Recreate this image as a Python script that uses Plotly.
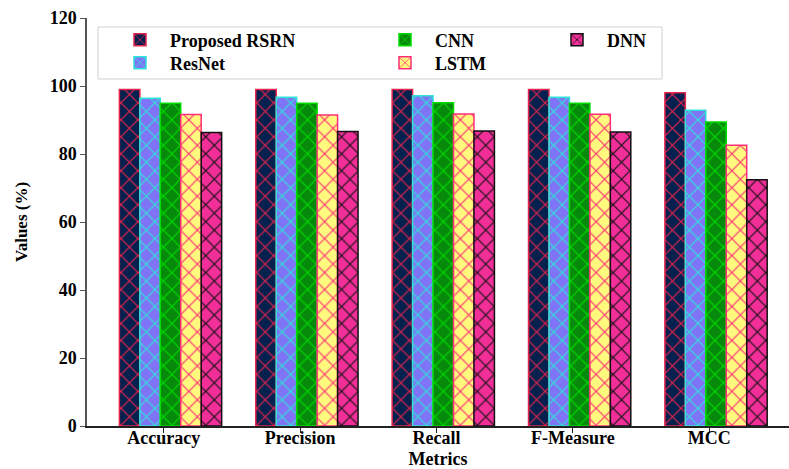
import plotly.graph_objects as go

# Evaluation metrics and model scores (%)
metrics = ["Accuracy", "Precision", "Recall", "F-Measure", "MCC"]
models = ["Proposed RSRN", "ResNet", "CNN", "LSTM", "DNN"]

rsrn = [99.0, 99.0, 99.0, 99.0, 98.0]
resnet = [96.4, 96.7, 97.1, 96.7, 92.9]
cnn = [94.9, 94.9, 95.1, 94.9, 89.4]
lstm = [91.6, 91.5, 91.8, 91.7, 82.6]
dnn = [86.3, 86.6, 86.8, 86.5, 72.4]

y_ticks = [0, 20, 40, 60, 80, 100, 120]

series = [rsrn, resnet, cnn, lstm, dnn]
fills = ["#03214f", "#7f74f6", "#078a0c", "#fff97e", "#f22f99"]
edges = ["#e8244c", "#2fe3d6", "#00dc00", "#ff2e78", "#111111"]
# one legend per entry so the 3-column grid (filled column-wise) lines up
legend_ids = ["legend", "legend2", "legend3", "legend4", "legend5"]

BAR_W = 0.15
FONT = "Liberation Serif"

fig = go.Figure()
for i, (name, vals) in enumerate(zip(models, series)):
    fig.add_trace(go.Bar(
        x=metrics,
        y=vals,
        name=f"<b>{name}</b>",
        width=BAR_W,
        offset=-0.325 + i * BAR_W,
        showlegend=True,
        marker=dict(
            color=fills[i],
            line=dict(color=edges[i], width=1.5),
            pattern=dict(shape="x", fgcolor=edges[i], bgcolor=fills[i],
                         size=12, solidity=0.18, fillmode="replace"),
        ),
        legend=legend_ids[i],
    ))

W, H = 789, 469
ML, MR, MT, MB = 87, 0, 18, 43
pw, ph = W - ML - MR, H - MT - MB


def px_x(p):
    return (p - ML) / pw


def px_y(p):
    return (H - MB - p) / ph


def legend_at(x_px, y_px):
    return dict(
        bgcolor="rgba(0,0,0,0)",
        borderwidth=0,
        font=dict(family=FONT, size=18, color="black"),
        itemwidth=50,
        xanchor="left",
        yanchor="middle",
        x=px_x(x_px),
        y=px_y(y_px),
    )


col_x = [110, 375, 547]
row_y = [40, 63]

fig.update_layout(
    width=W,
    height=H,
    margin=dict(l=ML, r=MR, t=MT, b=MB, autoexpand=False),
    paper_bgcolor="white",
    plot_bgcolor="white",
    barmode="overlay",
    showlegend=True,
    font=dict(family=FONT, size=17, color="black"),
    legend=legend_at(col_x[0], row_y[0]),
    legend2=legend_at(col_x[0], row_y[1]),
    legend3=legend_at(col_x[1], row_y[0]),
    legend4=legend_at(col_x[1], row_y[1]),
    legend5=legend_at(col_x[2], row_y[0]),
    shapes=[dict(
        type="rect", xref="paper", yref="paper",
        x0=px_x(98), x1=px_x(662), y0=px_y(79), y1=px_y(27),
        line=dict(color="#d0d0d0", width=1),
        fillcolor="rgba(255,255,255,0.8)",
        layer="above",
    )],
    xaxis=dict(
        range=[-0.5625, 4.585],
        automargin=False,
        tickvals=metrics,
        ticktext=[f"<b>{m}</b>" for m in metrics],
        showline=True, linecolor="#222222", linewidth=1.5,
        ticks="outside", ticklen=5, tickwidth=1.2, tickcolor="#222222",
        ticklabelstandoff=-10,
        tickfont=dict(family=FONT, size=18, color="black"),
        showgrid=False, zeroline=False,
        title=dict(text="<b>Metrics</b>", standoff=10,
                   font=dict(family=FONT, size=18, color="black")),
    ),
    yaxis=dict(
        range=[0, 120],
        automargin=False,
        tickvals=y_ticks,
        ticktext=[f"<b>{v}</b>" for v in y_ticks],
        showline=True, linecolor="#555555", linewidth=1.5,
        ticks="outside", ticklen=5, tickwidth=1.2, tickcolor="#555555",
        tickfont=dict(family=FONT, size=18, color="black"),
        showgrid=False, zeroline=False,
        title=dict(text="<b>Values (%)</b>", standoff=18,
                   font=dict(family=FONT, size=17, color="black")),
    ),
)

fig.write_html("out.html")
